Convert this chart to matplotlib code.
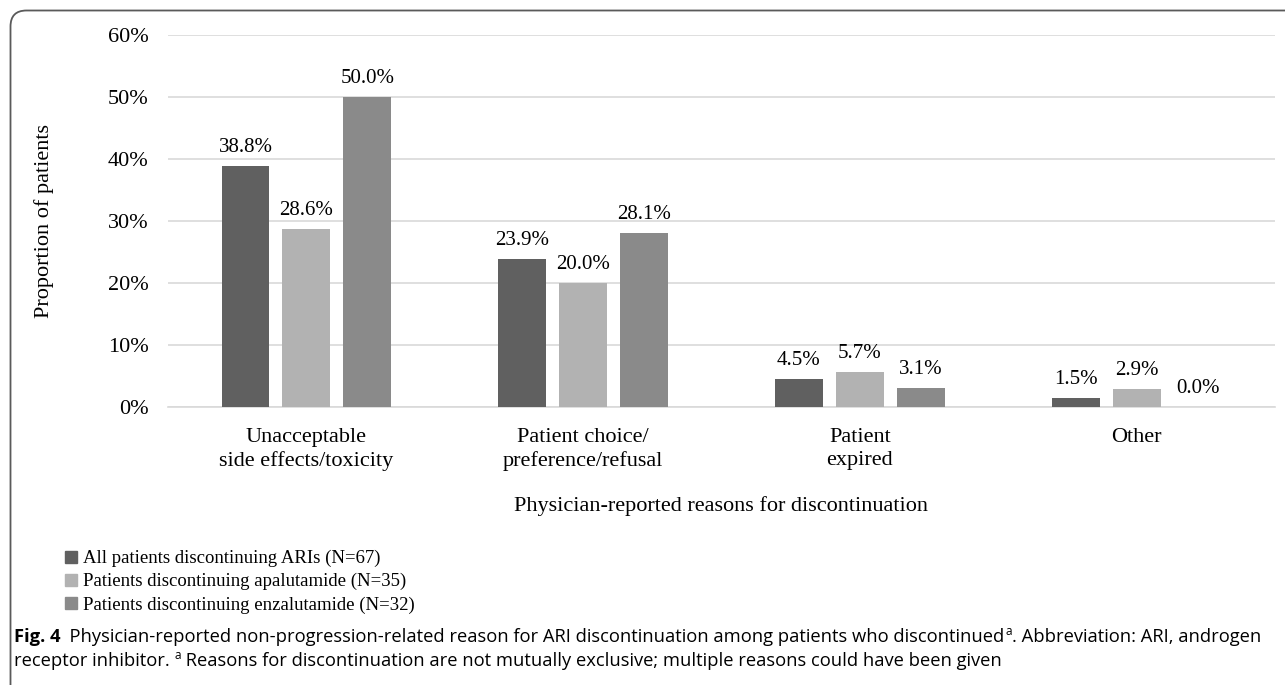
import numpy as np
import matplotlib
matplotlib.use("Agg")
import matplotlib.pyplot as plt
from matplotlib.lines import Line2D
from matplotlib.patches import FancyBboxPatch
from matplotlib.transforms import IdentityTransform
import matplotlib.ticker as mticker

# Data
categories = ["Unacceptable\nside effects/toxicity",
              "Patient choice/\npreference/refusal",
              "Patient\nexpired",
              "Other"]
series_names = ["All patients discontinuing ARIs (N=67)",
                "Patients discontinuing apalutamide (N=35)",
                "Patients discontinuing enzalutamide (N=32)"]
all_pts = [38.8, 23.9, 4.5, 1.5]
apalutamide = [28.6, 20.0, 5.7, 2.9]
enzalutamide = [50.0, 28.1, 3.1, 0.0]
y_ticks = [0, 10, 20, 30, 40, 50, 60]

COLORS = ["#606060", "#b2b2b2", "#8a8a8a"]
SERIF = "Liberation Serif"
SANS = "Open Sans"
FS = 16       # axis text
FS_VAL = 15   # value labels
FS_LEG = 13.5
FS_CAP = 13.2

fig = plt.figure(figsize=(12.85, 6.85), dpi=100)
ax = fig.add_axes([168 / 1285, 1 - 407 / 685, (1275 - 168) / 1285, (407 - 34.5) / 685])

x = np.arange(len(categories))
width = 0.173
offsets = [-0.22, 0.0, 0.22]
for vals, off, col, name in zip([all_pts, apalutamide, enzalutamide], offsets, COLORS, series_names):
    bars = ax.bar(x + off, vals, width=width, color=col, label=name, zorder=3)
    for b, v in zip(bars, vals):
        ax.annotate(f"{v:.1f}%", (b.get_x() + b.get_width() / 2, v),
                    xytext=(0, 6.5), textcoords="offset points",
                    ha="center", va="bottom", fontsize=FS_VAL, family=SERIF)

ax.set_xlim(-0.5, len(categories) - 0.5)
ax.set_ylim(0, 60)
ax.set_yticks(y_ticks)
ax.yaxis.set_major_formatter(mticker.FuncFormatter(lambda v, p: f"{v:.0f}%"))
ax.set_xticks(x)
ax.set_xticklabels(categories, fontsize=FS, family=SERIF, linespacing=1.3)
for lab in ax.get_yticklabels():
    lab.set_family(SERIF)
    lab.set_fontsize(FS)
ax.tick_params(axis="both", length=0)
ax.tick_params(axis="x", pad=15)
ax.tick_params(axis="y", pad=14)
ax.yaxis.grid(True, color="#d9d9d9", linewidth=1.2, zorder=0)
for s in ["top", "right", "left"]:
    ax.spines[s].set_visible(False)
ax.spines["bottom"].set_color("#d9d9d9")
ax.spines["bottom"].set_linewidth(1.2)

ax.set_ylabel("Proportion of patients", fontsize=FS, family=SERIF, labelpad=39)
ax.set_xlabel("Physician-reported reasons for discontinuation", fontsize=FS,
              family=SERIF, labelpad=18)

# Legend
handles = [Line2D([], [], marker="s", linestyle="none", markersize=8,
                  markerfacecolor=c, markeredgecolor=c) for c in COLORS]
fig.legend(handles, series_names, loc="upper left", bbox_to_anchor=(65 / 1285, 1 - 550 / 685),
           frameon=False, prop={"family": SERIF, "size": FS_LEG}, handlelength=0.65,
           handletextpad=0.3, labelspacing=0.31, borderpad=0, borderaxespad=0)

# Caption
y1 = 1 - 642 / 685
y2 = 1 - 666 / 685
t1 = fig.text(14 / 1285, y1, "Fig. 4", fontsize=FS_CAP, family=SANS,
              fontweight="bold", va="baseline")
t2 = fig.text(0, 0, "  Physician-reported non-progression-related reason for ARI discontinuation among patients who discontinued",
              fontsize=FS_CAP, family=SANS, va="baseline")
fig.canvas.draw()
r = fig.canvas.get_renderer()
bb = t1.get_window_extent(r)
t2.set_position((bb.x1 / fig.bbox.width, y1))
bb2 = t2.get_window_extent(r)
t3 = fig.text(bb2.x1 / fig.bbox.width + 0.0005, y1 + 7 / 685, "a", fontsize=8.5,
              family=SANS, va="baseline")
bb3 = t3.get_window_extent(r)
fig.text(bb3.x1 / fig.bbox.width, y1, ". Abbreviation: ARI, androgen",
         fontsize=FS_CAP, family=SANS, va="baseline")
t5 = fig.text(14 / 1285, y2, "receptor inhibitor. ", fontsize=FS_CAP,
              family=SANS, va="baseline")
bb5 = t5.get_window_extent(r)
t6 = fig.text(bb5.x1 / fig.bbox.width, y2 + 7 / 685, "a", fontsize=8.5,
              family=SANS, va="baseline")
bb6 = t6.get_window_extent(r)
fig.text(bb6.x1 / fig.bbox.width, y2,
         " Reasons for discontinuation are not mutually exclusive; multiple reasons could have been given",
         fontsize=FS_CAP, family=SANS, va="baseline")

# Rounded frame (only left/top edges fall inside the image)
frame = FancyBboxPatch((10.5, -40), 1400, 685 - 10.5 + 40,
                       boxstyle="round,pad=0,rounding_size=16",
                       transform=IdentityTransform(), facecolor="none",
                       edgecolor="#5a5a5a", linewidth=1.3)
fig.patches.append(frame)

fig.savefig("out.png", dpi=100)
